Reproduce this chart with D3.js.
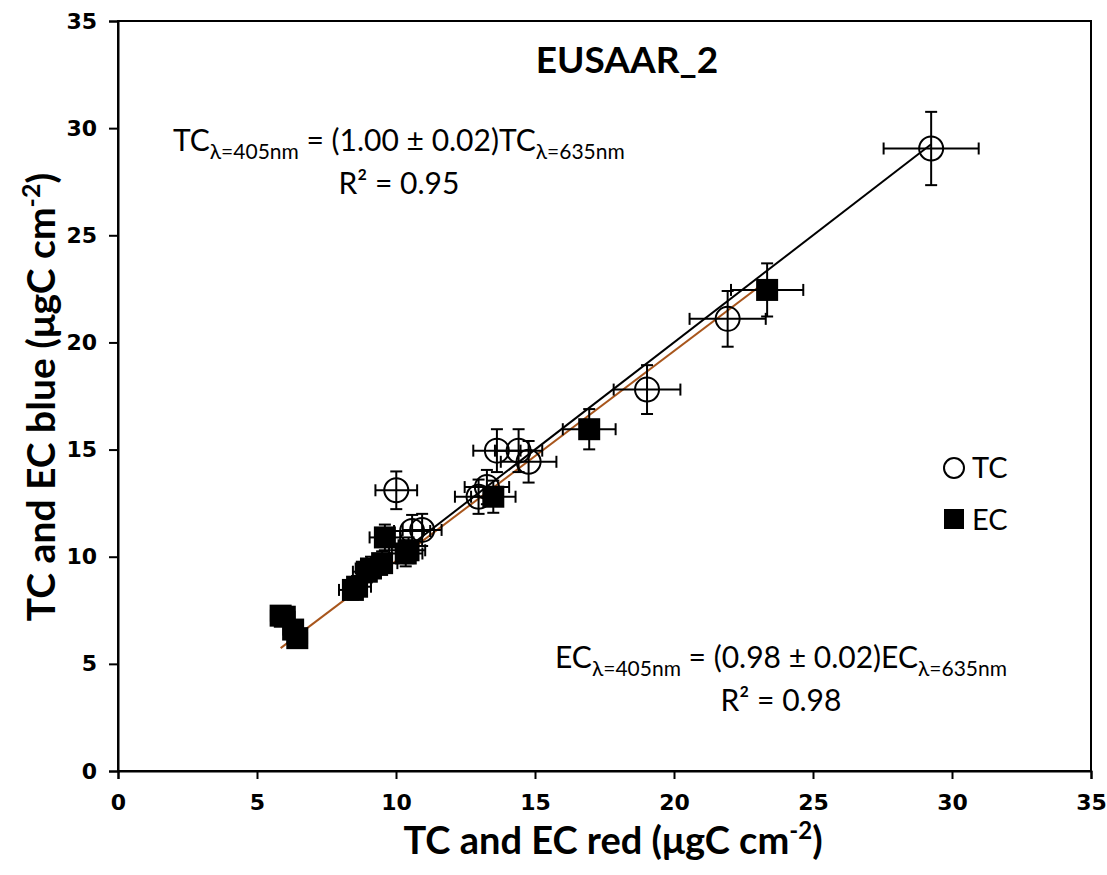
<!DOCTYPE html>
<html>
<head>
<meta charset="utf-8">
<script src="https://cdn.jsdelivr.net/npm/d3@7"></script>
<style>
  body { margin: 0; background: #fff; }
  text { font-family: Lato, "Open Sans", sans-serif; }
</style>
</head>
<body>
<div id="chart-area"></div>
<script>
// TC points (open circles)
var tcX = [29.25, 21.93, 19.03, 13.63, 14.41, 14.77, 12.97, 13.27, 10.01, 10.58, 10.94];
var tcY = [29.05, 21.1, 17.8, 14.95, 14.95, 14.43, 12.8, 13.25, 13.1, 11.2, 11.25];
var tcXErr = [1.71, 1.37, 1.2, 0.85, 0.85, 1.0, 0.85, 0.8, 0.75, 0.65, 0.7];
var tcYErr = [1.71, 1.3, 1.14, 1.0, 1.0, 0.97, 0.8, 0.8, 0.88, 0.75, 0.75];

// EC points (filled squares)
var ecX = [5.85, 6.0, 6.3, 6.45, 8.45, 8.6, 8.95, 9.1, 9.5, 9.6, 10.35, 10.45, 13.5, 16.95, 23.35];
var ecY = [7.25, 7.2, 6.6, 6.2, 8.45, 8.6, 9.3, 9.45, 9.7, 10.9, 10.15, 10.3, 12.8, 15.95, 22.45];
var ecXErr = [0.35, 0.35, 0.35, 0.35, 0.5, 0.5, 0.5, 0.55, 0.55, 0.55, 0.6, 0.6, 0.8, 0.95, 1.3];
var ecYErr = [0.4, 0.4, 0.35, 0.35, 0.45, 0.5, 0.5, 0.55, 0.55, 0.6, 0.6, 0.6, 0.75, 0.94, 1.24];

// fits through origin
var tcSlope = 1.00, ecSlope = 0.98;
var ticks = [0, 5, 10, 15, 20, 25, 30, 35];

var width = 1107, height = 875;
var margin = {top: 21, right: 16, bottom: 104, left: 118};

var svg = d3.select("#chart-area")
  .append("svg")
  .attr("width", width)
  .attr("height", height);

var x = d3.scaleLinear().domain([0, 35]).range([margin.left, width - margin.right]);
var y = d3.scaleLinear().domain([0, 35]).range([height - margin.bottom, margin.top]);

// frame
svg.append("rect")
  .attr("x", x(0)).attr("y", y(35))
  .attr("width", x(35) - x(0)).attr("height", y(0) - y(35))
  .attr("fill", "none").attr("stroke", "#000").attr("stroke-width", 2);

var xAxis = svg.append("g")
  .attr("transform", "translate(0," + y(0) + ")")
  .call(d3.axisBottom(x).tickValues(ticks).tickSize(8).tickPadding(15).tickFormat(d3.format("d")));
var yAxis = svg.append("g")
  .attr("transform", "translate(" + x(0) + ",0)")
  .call(d3.axisLeft(y).tickValues(ticks).tickSize(9).tickPadding(12).tickFormat(d3.format("d")));

[xAxis, yAxis].forEach(g => {
  g.select(".domain").attr("stroke-width", 2);
  g.selectAll(".tick line").attr("stroke-width", 2);
  g.selectAll(".tick text")
    .style("font-family", "'DejaVu Sans', Verdana, sans-serif")
    .style("font-weight", "bold")
    .style("font-size", "22px")
    .attr("fill", "#000");
});

// regression lines
var tcMin = d3.min(tcX), tcMax = d3.max(tcX);
var ecMin = d3.min(ecX), ecMax = d3.max(ecX);
svg.append("line")
  .attr("x1", x(tcMin)).attr("y1", y(tcSlope * tcMin))
  .attr("x2", x(tcMax)).attr("y2", y(tcSlope * tcMax))
  .attr("stroke", "#000").attr("stroke-width", 2);
svg.append("line")
  .attr("x1", x(ecMin)).attr("y1", y(ecSlope * ecMin))
  .attr("x2", x(ecMax)).attr("y2", y(ecSlope * ecMax))
  .attr("stroke", "#a8561c").attr("stroke-width", 2);

var tcData = tcX.map((d, i) => ({x: d, y: tcY[i], ex: tcXErr[i], ey: tcYErr[i]}));
var ecData = ecX.map((d, i) => ({x: d, y: ecY[i], ex: ecXErr[i], ey: ecYErr[i]}));

var cap = 6;
function errorBars(data) {
  var g = svg.append("g").attr("stroke", "#000").attr("stroke-width", 2);
  data.forEach(d => {
    g.append("line").attr("x1", x(d.x - d.ex)).attr("x2", x(d.x + d.ex)).attr("y1", y(d.y)).attr("y2", y(d.y));
    g.append("line").attr("x1", x(d.x)).attr("x2", x(d.x)).attr("y1", y(d.y - d.ey)).attr("y2", y(d.y + d.ey));
    g.append("line").attr("x1", x(d.x - d.ex)).attr("x2", x(d.x - d.ex)).attr("y1", y(d.y) - cap).attr("y2", y(d.y) + cap);
    g.append("line").attr("x1", x(d.x + d.ex)).attr("x2", x(d.x + d.ex)).attr("y1", y(d.y) - cap).attr("y2", y(d.y) + cap);
    g.append("line").attr("x1", x(d.x) - cap).attr("x2", x(d.x) + cap).attr("y1", y(d.y - d.ey)).attr("y2", y(d.y - d.ey));
    g.append("line").attr("x1", x(d.x) - cap).attr("x2", x(d.x) + cap).attr("y1", y(d.y + d.ey)).attr("y2", y(d.y + d.ey));
  });
}
errorBars(ecData);
errorBars(tcData);

svg.selectAll("rect.ec")
  .data(ecData)
  .enter()
  .append("rect")
    .attr("class", "ec")
    .attr("x", d => x(d.x) - 11)
    .attr("y", d => y(d.y) - 11)
    .attr("width", 22)
    .attr("height", 22)
    .attr("fill", "#000");

svg.selectAll("circle.tc")
  .data(tcData)
  .enter()
  .append("circle")
    .attr("class", "tc")
    .attr("cx", d => x(d.x))
    .attr("cy", d => y(d.y))
    .attr("r", 12)
    .attr("fill", "none")
    .attr("stroke", "#000")
    .attr("stroke-width", 2);

// title
svg.append("text")
  .attr("x", 627).attr("y", 73)
  .attr("text-anchor", "middle")
  .attr("font-weight", "bold")
  .attr("font-size", 37)
  .text("EUSAAR_2");

// axis titles
var xt = svg.append("text")
  .attr("x", 613).attr("y", 854)
  .attr("text-anchor", "middle")
  .attr("font-weight", "bold")
  .attr("font-size", 38);
xt.append("tspan").text("TC and EC red (μgC cm");
xt.append("tspan").attr("dy", -15).attr("font-size", 24).text("-2");
xt.append("tspan").attr("dy", 15).text(")");

var yt = svg.append("text")
  .attr("transform", "translate(55,397) rotate(-90)")
  .attr("text-anchor", "middle")
  .attr("font-weight", "bold")
  .attr("font-size", 39);
yt.append("tspan").text("TC and EC blue (μgC cm");
yt.append("tspan").attr("dy", -15).attr("font-size", 25).text("-2");
yt.append("tspan").attr("dy", 15).text(")");

// equations
function equation(xPos, yPos, name, slope, r2) {
  var t = svg.append("text").attr("x", xPos).attr("y", yPos).attr("font-size", 30);
  t.append("tspan").text(name);
  t.append("tspan").attr("dy", 8).attr("font-size", 21).text("λ=405nm");
  t.append("tspan").attr("dy", -8).text(" = (" + slope + " ± 0.02)" + name);
  t.append("tspan").attr("dy", 8).attr("font-size", 21).text("λ=635nm");
  var bb = t.node().getBBox();
  svg.append("text")
    .attr("x", bb.x + bb.width / 2).attr("y", yPos + 43)
    .attr("text-anchor", "middle").attr("font-size", 30)
    .text("R² = " + r2);
}
equation(173, 151, "TC", "1.00", "0.95");
equation(555, 668, "EC", "0.98", "0.98");

// legend
svg.append("circle").attr("cx", 954).attr("cy", 468).attr("r", 10)
  .attr("fill", "none").attr("stroke", "#000").attr("stroke-width", 2);
svg.append("text").attr("x", 972).attr("y", 478).attr("font-size", 29).text("TC");
svg.append("rect").attr("x", 944).attr("y", 509).attr("width", 20).attr("height", 20).attr("fill", "#000");
svg.append("text").attr("x", 972).attr("y", 530).attr("font-size", 29).text("EC");
</script>
</body>
</html>
